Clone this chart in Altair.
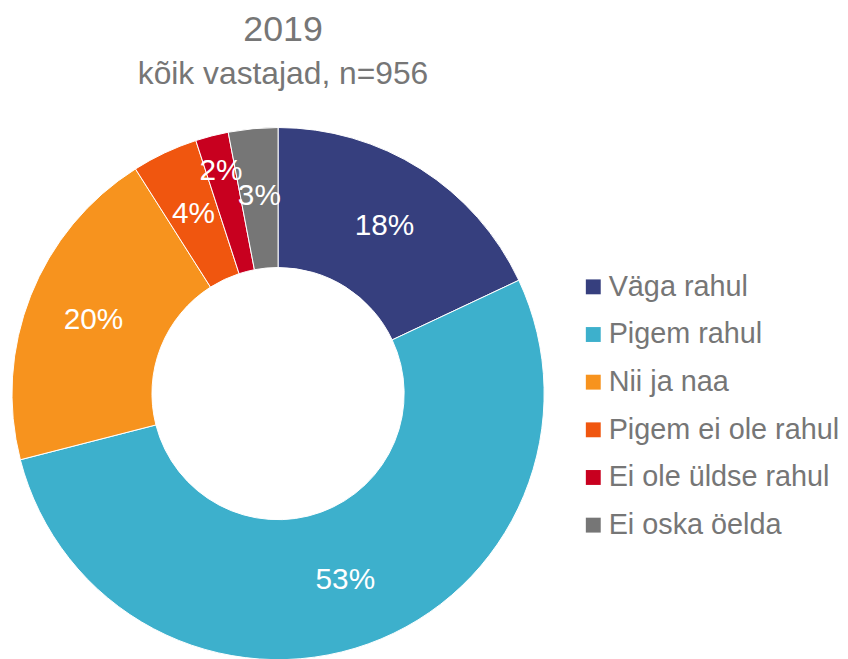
import math
import altair as alt
import pandas as pd

categories = ["Väga rahul", "Pigem rahul", "Nii ja naa", "Pigem ei ole rahul", "Ei ole üldse rahul", "Ei oska öelda"]
values = [18, 53, 20, 4, 2, 3]
labels = ["18%", "53%", "20%", "4%", "2%", "3%"]
colors = ["#363F7E", "#3DB0CC", "#F7931E", "#F0560F", "#C8001F", "#767676"]

df = pd.DataFrame({
    "category": categories,
    "value": values,
    "label": labels,
    "order": list(range(len(categories))),
})

FONT = "Liberation Sans"
GRAY = "#767676"

color_enc = alt.Color(
    "category:N",
    sort=categories,
    scale=alt.Scale(domain=categories, range=colors),
    legend=alt.Legend(
        title=None,
        orient="none",
        legendX=573,
        legendY=148,
        symbolType="square",
        symbolSize=225,
        symbolStrokeWidth=0,
        labelFontSize=29,
        labelFont=FONT,
        labelColor=GRAY,
        labelOffset=1,
        rowPadding=18,
        labelLimit=400,
    ),
)

arcs = alt.Chart(df).mark_arc(
    innerRadius=127, outerRadius=268, stroke="white", strokeWidth=1
).encode(
    theta=alt.Theta("value:Q", stack=True),
    color=color_enc,
    order=alt.Order("order:Q"),
)

base_text = alt.Chart(df).transform_window(
    cum="sum(value)", sort=[alt.SortField("order")], frame=[None, 0]
).transform_calculate(
    mid="datum.cum - datum.value / 2"
)

theta_mid = alt.Theta("mid:Q", scale=alt.Scale(domain=[0, 100], range=[0, 2 * math.pi]))

text_main = base_text.transform_filter("datum.label != '2%'").mark_text(
    radius=200, fontSize=30, font=FONT, color="white"
).encode(theta=theta_mid, text="label:N")

text_small = base_text.transform_filter("datum.label == '2%'").mark_text(
    radius=231, fontSize=30, font=FONT, color="white"
).encode(theta=theta_mid, text="label:N")

chart = alt.layer(arcs, text_main, text_small).resolve_scale(
    theta="independent"
).properties(
    width=540,
    height=540,
    padding={"top": 2, "left": 2, "right": 0, "bottom": 0},
    title=alt.TitleParams(
        text="2019",
        subtitle="kõik vastajad, n=956",
        fontSize=36,
        subtitleFontSize=32,
        font=FONT,
        subtitleFont=FONT,
        fontWeight="normal",
        color=GRAY,
        subtitleColor=GRAY,
        subtitlePadding=10,
        anchor="middle",
        dx=5,
        offset=35,
    ),
).configure_view(stroke=None)

chart.save("out.html", embed_options={"renderer": "svg", "actions": False})
